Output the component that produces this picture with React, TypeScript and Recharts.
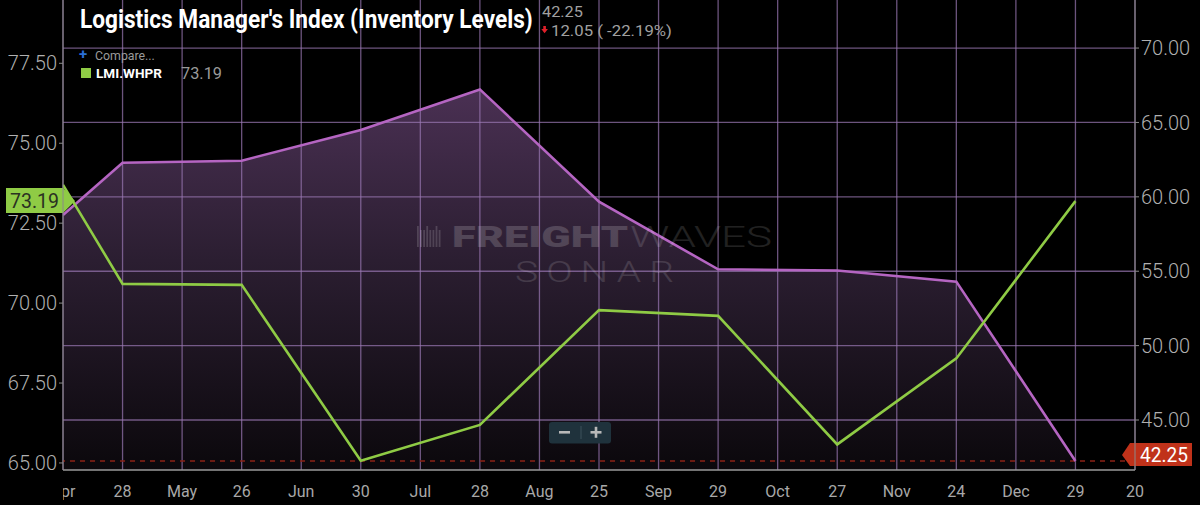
import React, { useLayoutEffect, useRef, useState } from 'react';
import { ComposedChart, Area, Line, XAxis, YAxis, ReferenceLine } from 'recharts';

if (typeof document !== 'undefined') {
  document.body.style.margin = '0';
  document.body.style.background = '#000';
}

const xTickLabels = ['Apr', '28', 'May', '26', 'Jun', '30', 'Jul', '28', 'Aug', '25', 'Sep', '29', 'Oct', '27', 'Nov', '24', 'Dec', '29', '20'];
const pointSlots = [0, 1, 3, 5, 7, 9, 11, 13, 15, 17];
const inventoryLevels = [58.78, 62.29, 62.43, 64.49, 67.22, 59.67, 55.13, 55.05, 54.3, 42.25];
const whprIndex = [73.7, 70.6, 70.57, 65.07, 66.19, 69.78, 69.6, 65.58, 68.27, 73.19];
const leftTicks = [65, 67.5, 70, 72.5, 75, 77.5];
const rightTicks = [45, 50, 55, 60, 65, 70];
const leftDomain = [64.78, 79.48];
const rightDomain = [41.64, 73.23];
const xDomain = [0, 18];

const data = pointSlots.map((slot, i) => ({ slot, inventory: inventoryLevels[i], whpr: whprIndex[i] }));
const xTicks = xTickLabels.map((_, i) => i);

const lastInv = inventoryLevels[inventoryLevels.length - 1];
const prevInv = inventoryLevels[inventoryLevels.length - 2];
const invChange = lastInv - prevInv;
const invPct = (invChange / prevInv) * 100;
const lastWhpr = whprIndex[whprIndex.length - 1];

const FONT = 'Roboto, "Noto Sans", sans-serif';
const GRID = '#9a78b4';
const PURPLE = '#b565c2';
const GREEN = '#8fcb45';

const FitText = ({ x, y, width, children, ...rest }: any) => {
  const ref = useRef<SVGTextElement>(null);
  const [k, setK] = useState(1);
  useLayoutEffect(() => {
    const el = ref.current;
    if (!el) return;
    const natural = el.getComputedTextLength();
    if (natural > 0) setK(width / natural);
  }, [width, children]);
  return (
    <text ref={ref} transform={`translate(${x},${y}) scale(${k},1)`} x={0} y={0} {...rest}>
      {children}
    </text>
  );
};

const XTick = (props: any) => {
  const { x, y, payload } = props;
  const label = xTickLabels[payload.value] ?? '';
  const first = payload.value === 0;
  return (
    <g>
      {first && (
        <defs>
          <clipPath id="firstTickClip">
            <rect x={x} y={y - 10} width={60} height={40} />
          </clipPath>
        </defs>
      )}
      <text
        x={x}
        y={y + 19}
        textAnchor="middle"
        fill="#a8a8a8"
        fontSize={16}
        fontFamily={FONT}
        clipPath={first ? 'url(#firstTickClip)' : undefined}
      >
        {label}
      </text>
    </g>
  );
};

const GreenTag = (props: any) => {
  const vb = props.viewBox || {};
  const x = vb.x ?? 0;
  const y = vb.y ?? 0;
  const pts = `${x - 57},${y - 13} ${x},${y - 13} ${x + 12},${y} ${x},${y + 12} ${x - 57},${y + 12}`;
  return (
    <g>
      <polygon points={pts} fill={GREEN} />
      <text x={x - 53} y={y + 7} fontSize={20} fontFamily={FONT} fill="#2a3122" textLength={49} lengthAdjust="spacingAndGlyphs">
        {lastWhpr.toFixed(2)}
      </text>
    </g>
  );
};

const RedTag = (props: any) => {
  const vb = props.viewBox || {};
  const r = (vb.x ?? 0) + (vb.width ?? 0);
  const y = vb.y ?? 0;
  const pts = `${r - 13},${y - 6} ${r - 5},${y - 18} ${r + 57},${y - 18} ${r + 57},${y + 5} ${r - 5},${y + 5}`;
  return (
    <g>
      <polygon points={pts} fill="#c0321a" />
      <text x={r + 5} y={y + 1} fontSize={20} fontFamily={FONT} fill="#ffffff" textLength={48} lengthAdjust="spacingAndGlyphs">
        {lastInv.toFixed(2)}
      </text>
    </g>
  );
};

export default function App() {
  return (
    <div style={{ position: 'relative', width: 1200, height: 505, background: '#000', overflow: 'hidden' }}>
      <ComposedChart width={1200} height={505} data={data} margin={{ top: 0, right: 0, bottom: 0, left: 0 }}>
        <defs>
          <linearGradient id="invFill" x1="0" y1="0" x2="0" y2="1">
            <stop offset="0%" stopColor="#4a3053" />
            <stop offset="45%" stopColor="#2b1e31" />
            <stop offset="100%" stopColor="#0b080c" />
          </linearGradient>
        </defs>
        <XAxis
          dataKey="slot"
          type="number"
          domain={xDomain}
          ticks={xTicks}
          interval={0}
          allowDataOverflow
          height={35}
          tick={<XTick />}
          tickLine={false}
          axisLine={{ stroke: '#9a9a9a', strokeWidth: 1.5 }}
        />
        <YAxis
          yAxisId="left"
          orientation="left"
          width={63}
          domain={leftDomain}
          ticks={leftTicks}
          interval={0}
          allowDataOverflow
          tickFormatter={(v: number) => v.toFixed(2)}
          tick={{ fill: '#b0b0b0', fontSize: 20, fontFamily: FONT, fontWeight: 300 }}
          tickSize={4}
          tickMargin={2}
          axisLine={{ stroke: '#8a8a8a' }}
          tickLine={{ stroke: '#8a8a8a' }}
        />
        <YAxis
          yAxisId="right"
          orientation="right"
          width={65}
          domain={rightDomain}
          ticks={rightTicks}
          interval={0}
          allowDataOverflow
          tickFormatter={(v: number) => v.toFixed(2)}
          tick={{ fill: '#b0b0b0', fontSize: 20, fontFamily: FONT, fontWeight: 300, textAnchor: 'start' }}
          tickSize={4}
          tickMargin={2}
          axisLine={{ stroke: '#8a8a8a' }}
          tickLine={{ stroke: '#8a8a8a' }}
        />
        <Area
          yAxisId="right"
          type="linear"
          dataKey="inventory"
          stroke="none"
          fill="url(#invFill)"
          fillOpacity={1}
          isAnimationActive={false}
          zIndex={100}
        />
        {xTicks.map((t) => (
          <ReferenceLine key={`vx${t}`} yAxisId="right" x={t} stroke={GRID} strokeOpacity={0.7} strokeWidth={1.3} zIndex={200} />
        ))}
        {rightTicks.map((t) => (
          <ReferenceLine key={`hy${t}`} yAxisId="right" y={t} stroke={GRID} strokeOpacity={0.7} strokeWidth={1.3} zIndex={200} />
        ))}
        <ReferenceLine
          yAxisId="right"
          y={lastInv}
          stroke="#8a2216"
          strokeWidth={1.5}
          strokeDasharray="5 5"
          ifOverflow="visible"
          zIndex={250}
          label={(p: any) => <RedTag {...p} />}
        />
        <Line
          yAxisId="right"
          type="linear"
          dataKey="inventory"
          stroke={PURPLE}
          strokeWidth={2.6}
          dot={false}
          activeDot={false}
          isAnimationActive={false}
          zIndex={300}
        />
        <Line
          yAxisId="left"
          type="linear"
          dataKey="whpr"
          stroke={GREEN}
          strokeWidth={2.6}
          dot={false}
          activeDot={false}
          isAnimationActive={false}
          zIndex={310}
        />
        <ReferenceLine
          yAxisId="left"
          y={lastWhpr}
          stroke="none"
          strokeOpacity={0}
          ifOverflow="visible"
          zIndex={400}
          label={(p: any) => <GreenTag {...p} />}
        />
      </ComposedChart>
      <svg
        width={1200}
        height={505}
        style={{ position: 'absolute', left: 0, top: 0, pointerEvents: 'none' }}
      >
        {/* watermark */}
        <g>
          {[0, 1, 2, 3, 4, 5, 6, 7].map((i) => (
            <rect key={i} x={417 + i * 3.1} y={226 + (i % 3 === 0 ? 0 : 4)} width={1.8} height={i % 3 === 0 ? 21 : 17} fill="#ffffff" opacity={0.16} />
          ))}
          <FitText x={452} y={247} width={176} fontSize={29} fontWeight={900} fontFamily={FONT} fill="#ffffff" opacity={0.17}>
            FREIGHT
          </FitText>
          <FitText x={630} y={247} width={142} fontSize={29} fontWeight={300} fontFamily={FONT} fill="#ffffff" opacity={0.13}>
            WAVES
          </FitText>
          <FitText x={515} y={282} width={167} fontSize={29} fontWeight={300} fontFamily={FONT} fill="#ffffff" opacity={0.13} letterSpacing={6}>
            SONAR
          </FitText>
        </g>
        {/* title */}
        <FitText x={80} y={28} width={453} fontSize={26} fontWeight={700} fontFamily={FONT} fill="#ffffff">
          Logistics Manager's Index (Inventory Levels)
        </FitText>
        <FitText x={542} y={16.5} width={41} fontSize={14} fontFamily={FONT} fill="#a0a0a0">
          {lastInv.toFixed(2)}
        </FitText>
        <path d="M543.3 26 h2.6 v3 h2 l-3.3 4.2 l-3.3 -4.2 h2 z" fill="#e0202a" />
        <FitText x={551} y={36} width={121} fontSize={15} fontFamily={FONT} fill="#a0a0a0">
          {`${Math.abs(invChange).toFixed(2)} ( ${invPct.toFixed(2)}%)`}
        </FitText>
        {/* legend */}
        <text x={79} y={59} fontSize={15} fontWeight={700} fontFamily={FONT} fill="#2a6fd6">+</text>
        <FitText x={95} y={60} width={60} fontSize={12} fontFamily={FONT} fill="#9a9a9a">
          Compare...
        </FitText>
        <rect x={81} y={68} width={10} height={10} fill={GREEN} />
        <FitText x={96} y={78} width={66} fontSize={13} fontWeight={700} fontFamily={FONT} fill="#ffffff">
          LMI.WHPR
        </FitText>
        <FitText x={181} y={79} width={41} fontSize={16} fontFamily={FONT} fill="#9a9a9a">
          {lastWhpr.toFixed(2)}
        </FitText>
        {/* zoom control */}
        <rect x={549} y={422} width={62} height={21.5} rx={3} fill="#1f323c" />
        <line x1={581} y1={426} x2={581} y2={439} stroke="#3c505a" strokeWidth={1} />
        <rect x={559} y={431} width={11} height={2.6} fill="#b8b8b8" />
        <rect x={590.5} y={431} width={11} height={2.6} fill="#b8b8b8" />
        <rect x={594.7} y={426.8} width={2.6} height={11} fill="#b8b8b8" />
      </svg>
    </div>
  );
}
